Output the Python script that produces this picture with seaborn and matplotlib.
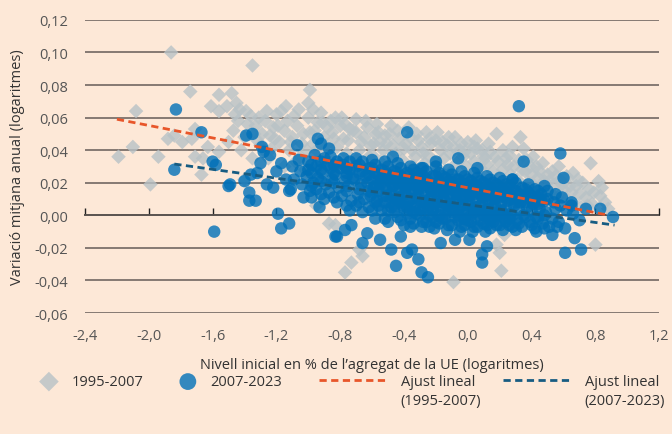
import numpy as np
import pandas as pd
import matplotlib
matplotlib.use('Agg')
import matplotlib.pyplot as plt
from matplotlib.ticker import FuncFormatter
import seaborn as sns

# 1995-2007 (grey diamonds): (initial level, mean annual change)
grey_left = [(-2.19, 0.036), (-2.10, 0.042), (-2.08, 0.064), (-1.99, 0.019), (-1.94, 0.036),
             (-1.86, 0.100), (-1.88, 0.047), (-1.84, 0.049), (-1.79, 0.045), (-1.74, 0.076),
             (-1.73, 0.047), (-1.71, 0.053), (-1.71, 0.036), (-1.67, 0.025), (-1.66, 0.035),
             (-1.63, 0.042), (-1.61, 0.067), (-1.56, 0.074), (-1.56, 0.064), (-1.56, 0.039),
             (-1.51, 0.067), (-1.48, 0.075), (-1.45, 0.069), (-1.43, 0.065), (-1.40, 0.022),
             (-1.36, 0.061), (-1.35, 0.092), (-1.30, 0.043), (-1.24, 0.049), (-1.50, 0.045),
             (-1.47, 0.052), (-1.44, 0.058), (-1.42, 0.040), (-1.40, 0.048), (-1.38, 0.056),
             (-1.33, 0.055), (-1.31, 0.060), (-1.29, 0.050), (-1.27, 0.058), (-1.25, 0.035),
             (-1.22, 0.054), (-1.20, 0.062), (-1.18, 0.045), (-1.17, 0.064), (-1.15, 0.052),
             (-1.13, 0.058), (-1.12, 0.040), (-1.10, 0.048), (-1.09, 0.061), (-1.07, 0.055),
             (-1.05, 0.036), (-1.03, 0.050), (-1.00, 0.069), (-1.00, 0.060), (-0.99, 0.077),
             (-0.99, 0.051), (-0.97, 0.044), (-0.95, 0.006), (-0.94, 0.057), (-1.46, 0.062),
             (-1.39, 0.064), (-1.34, 0.050), (-1.26, 0.064), (-1.21, 0.047), (-1.14, 0.067),
             (-1.06, 0.065), (-1.04, 0.044), (-0.97, 0.065), (-0.91, 0.057), (-1.15, 0.030),
             (-1.08, 0.033), (-1.02, 0.028), (-1.28, 0.040), (-1.35, 0.035), (-1.32, 0.046),
             (-1.23, 0.041), (-1.19, 0.055), (-1.11, 0.045), (-1.01, 0.040), (-0.96, 0.052)]
grey_mid = [(-0.92, 0.063), (-0.90, 0.048), (-0.88, 0.054), (-0.87, -0.005), (-0.86, 0.058),
            (-0.85, 0.051), (-0.83, 0.060), (-0.83, -0.006), (-0.82, 0.042), (-0.80, 0.055),
            (-0.78, 0.047), (-0.77, 0.056), (-0.77, -0.035), (-0.75, 0.046), (-0.73, -0.029),
            (-0.72, 0.052), (-0.70, 0.059), (-0.70, 0.051), (-0.68, 0.040), (-0.68, -0.021),
            (-0.66, -0.025), (-0.65, 0.048), (-0.63, 0.054), (-0.61, 0.043), (-0.60, 0.037),
            (-0.58, 0.050), (-0.57, 0.056), (-0.55, 0.045), (-0.53, 0.040), (-0.52, 0.049),
            (-0.49, 0.050), (-0.47, 0.043), (-0.45, 0.038), (-0.43, 0.047), (-0.41, 0.034),
            (-0.39, 0.044), (-0.37, 0.054), (-0.35, 0.040), (-0.33, 0.036), (-0.31, 0.046),
            (-0.29, 0.042), (-0.26, 0.051), (-0.25, 0.037), (-0.23, 0.044), (-0.21, 0.033),
            (-0.19, 0.051), (-0.17, 0.040), (-0.15, 0.035), (-0.13, 0.043), (-0.11, 0.038),
            (-0.09, -0.041), (-0.08, 0.048), (-0.07, 0.032), (-0.05, 0.040), (-0.03, 0.036),
            (0.00, 0.045), (-0.01, 0.030), (-0.95, 0.040), (-0.93, 0.030), (-0.90, 0.036),
            (-0.85, 0.025), (-0.80, 0.032), (-0.76, 0.038), (-0.74, 0.028), (-0.70, 0.034),
            (-0.66, 0.030), (-0.62, 0.036), (-0.58, 0.028), (-0.55, 0.033), (-0.50, 0.030),
            (-0.46, 0.026), (-0.42, 0.030), (-0.38, 0.024), (-0.34, 0.030), (-0.30, 0.022),
            (-0.27, 0.032), (-0.22, 0.025), (-0.18, 0.028), (-0.14, 0.022), (-0.10, 0.027),
            (-0.06, 0.020), (-0.02, 0.024), (-0.44, 0.052), (-0.36, 0.048), (-0.28, 0.038),
            (-0.20, 0.046), (-0.12, 0.048), (-0.04, 0.044), (-0.89, 0.043), (-0.84, 0.047),
            (-0.79, 0.060), (-0.74, 0.053), (-0.67, 0.045), (-0.64, 0.058), (-0.59, 0.044),
            (-0.56, 0.051), (-0.51, 0.044), (-0.48, 0.055), (-0.40, 0.041), (-0.32, 0.050),
            (-0.24, 0.047), (-0.16, 0.045), (-0.09, 0.042), (-0.02, 0.039)]
grey_right = [(0.02, 0.038), (0.04, 0.033), (0.06, 0.041), (0.08, 0.029), (0.10, 0.036),
              (0.12, 0.031), (0.14, 0.039), (0.16, 0.027), (0.18, 0.050), (0.18, -0.018),
              (0.19, 0.033), (0.20, -0.023), (0.21, -0.034), (0.22, 0.028), (0.23, -0.012),
              (0.24, 0.035), (0.26, 0.037), (0.27, 0.025), (0.29, 0.030), (0.31, 0.022),
              (0.33, 0.048), (0.34, 0.028), (0.35, 0.041), (0.36, 0.027), (0.38, 0.020),
              (0.40, 0.025), (0.42, 0.018), (0.44, 0.023), (0.46, 0.016), (0.48, 0.021),
              (0.50, 0.025), (0.52, 0.014), (0.54, 0.019), (0.56, 0.011), (0.58, 0.022),
              (0.60, 0.016), (0.62, 0.010), (0.64, 0.018), (0.66, 0.008), (0.68, 0.018),
              (0.70, 0.013), (0.71, 0.005), (0.74, 0.011), (0.77, 0.032), (0.78, 0.007),
              (0.80, -0.018), (0.82, 0.021), (0.83, 0.012), (0.86, 0.008), (0.88, 0.004),
              (0.03, 0.020), (0.07, 0.022), (0.11, 0.017), (0.15, 0.020), (0.20, 0.016),
              (0.25, 0.018), (0.30, 0.012), (0.35, 0.014), (0.40, 0.010), (0.45, 0.008),
              (0.05, 0.046), (0.09, 0.040), (0.13, 0.044), (0.22, 0.040), (0.28, 0.042),
              (0.37, 0.034), (0.43, 0.030), (0.47, 0.032), (0.53, 0.027), (0.57, 0.030),
              (0.62, 0.024), (0.66, 0.026), (0.72, 0.020), (0.76, 0.016), (0.04, 0.042),
              (0.11, 0.035), (0.17, 0.036), (0.25, 0.031), (0.32, 0.034), (0.39, 0.030),
              (0.45, 0.027), (0.51, 0.021), (0.59, 0.019), (0.65, 0.014), (0.69, 0.022),
              (0.75, 0.006), (0.79, 0.014), (0.84, 0.017), (0.55, 0.024), (0.41, 0.036)]

# 2007-2023 (blue circles)
blue_outer = [(-1.83, 0.065), (-1.84, 0.028), (-1.67, 0.051), (-1.60, 0.033), (-1.58, 0.031),
              (-1.59, -0.010), (-1.50, 0.018), (-1.49, 0.019), (-1.40, 0.021), (-1.39, 0.049),
              (-1.35, 0.050), (-1.37, 0.014), (-1.37, 0.009), (-1.33, 0.009), (-1.29, 0.042),
              (-1.28, 0.039), (-1.24, 0.037), (-1.30, 0.032), (-1.32, 0.026), (-1.36, 0.025),
              (-1.26, 0.019), (-1.22, 0.017), (-1.17, 0.032), (-1.20, 0.027), (-1.14, 0.022),
              (-1.07, 0.043), (-1.12, 0.015), (-1.03, 0.011), (-1.19, 0.001), (-1.17, -0.008),
              (-1.12, -0.005), (-0.94, 0.047), (-0.92, 0.044), (-0.87, 0.041), (-0.93, 0.005),
              (-0.83, -0.013), (-0.82, -0.013), (-0.77, -0.009), (-0.73, -0.006), (-0.66, -0.017),
              (-0.63, -0.011), (-0.55, -0.015), (-0.48, -0.021), (-0.45, -0.031), (-0.42, -0.013),
              (-0.38, -0.023), (-0.35, -0.021), (-0.36, -0.007), (-0.31, -0.027), (-0.29, -0.035),
              (-0.25, -0.038), (-0.17, -0.017), (-0.08, -0.015), (0.01, -0.015), (0.09, -0.024),
              (0.09, -0.029), (0.12, -0.019), (0.32, 0.067), (-0.38, 0.051), (-0.47, 0.036),
              (-0.29, 0.029), (-0.06, 0.035), (0.06, 0.029), (0.35, 0.033), (0.28, 0.022),
              (-0.20, 0.033), (0.58, 0.038), (0.60, 0.023), (0.48, 0.018), (0.55, 0.013),
              (0.65, 0.006), (0.74, 0.004), (0.83, 0.004), (0.91, -0.001), (0.61, -0.023),
              (0.71, -0.021), (0.53, -0.012), (0.43, -0.010), (0.67, -0.014), (0.56, -0.007)]
blue_core_left = [(-1.10, 0.030), (-1.09, 0.022), (-1.11, 0.016), (-1.05, 0.027), (-1.04, 0.019),
                  (-1.06, 0.034), (-1.00, 0.033), (-1.01, 0.024), (-0.99, 0.015), (-1.00, 0.028),
                  (-0.97, 0.020), (-0.96, 0.037), (-0.98, 0.011), (-0.95, 0.030), (-0.94, 0.023),
                  (-0.95, 0.016), (-0.90, 0.035), (-0.91, 0.026), (-0.89, 0.019), (-0.90, 0.010),
                  (-0.88, 0.031), (-0.86, 0.029), (-0.85, 0.022), (-0.87, 0.014), (-0.86, 0.036),
                  (-0.82, 0.033), (-0.83, 0.025), (-0.81, 0.017), (-0.82, 0.008), (-0.80, 0.029),
                  (-0.78, 0.031), (-0.77, 0.021), (-0.79, 0.012), (-0.78, 0.035), (-0.76, 0.026),
                  (-0.74, 0.028), (-0.75, 0.018), (-0.73, 0.009), (-0.74, 0.033), (-0.72, 0.023),
                  (-0.74, 0.003), (-0.70, 0.030), (-0.71, 0.022), (-0.69, 0.013), (-0.70, 0.035),
                  (-0.70, 0.006), (-0.66, 0.027), (-0.67, 0.019), (-0.65, 0.010), (-0.66, 0.033),
                  (-0.64, 0.024), (-0.66, 0.002), (-0.62, 0.029), (-0.63, 0.020), (-0.61, 0.012),
                  (-0.62, 0.005), (-0.60, 0.034), (-0.62, 0.025), (-0.58, 0.026), (-0.59, 0.017),
                  (-0.57, 0.009), (-0.58, 0.031), (-0.56, 0.021), (-0.58, -0.002), (-0.54, 0.028),
                  (-0.55, 0.019), (-0.53, 0.012), (-0.54, 0.003), (-0.52, 0.033), (-0.54, 0.023),
                  (-0.50, 0.025), (-0.51, 0.016), (-0.49, 0.008), (-0.50, 0.030), (-0.48, 0.020),
                  (-0.50, -0.004), (-0.51, 0.012), (-0.46, 0.027), (-0.47, 0.018), (-0.45, 0.010),
                  (-0.46, 0.002), (-0.44, 0.032), (-0.46, 0.022), (-0.47, 0.014)]
blue_core_mid = [(-0.42, 0.024), (-0.43, 0.015), (-0.41, 0.006), (-0.42, 0.029), (-0.40, 0.019),
                 (-0.42, -0.003), (-0.43, 0.011), (-0.38, 0.026), (-0.39, 0.017), (-0.37, 0.009),
                 (-0.38, 0.001), (-0.36, 0.030), (-0.38, 0.021), (-0.39, 0.013), (-0.34, 0.023),
                 (-0.35, 0.014), (-0.33, 0.005), (-0.34, 0.028), (-0.32, 0.018), (-0.34, -0.005),
                 (-0.35, 0.010), (-0.30, 0.025), (-0.31, 0.016), (-0.29, 0.008), (-0.30, 0.000),
                 (-0.28, 0.029), (-0.30, 0.020), (-0.31, 0.012), (-0.29, -0.007), (-0.26, 0.022),
                 (-0.27, 0.013), (-0.25, 0.004), (-0.26, 0.027), (-0.24, 0.017), (-0.26, -0.004),
                 (-0.27, 0.009), (-0.22, 0.024), (-0.23, 0.015), (-0.21, 0.007), (-0.22, -0.001),
                 (-0.20, 0.030), (-0.22, 0.019), (-0.23, 0.011), (-0.21, -0.008), (-0.18, 0.021),
                 (-0.19, 0.012), (-0.17, 0.003), (-0.18, 0.026), (-0.16, 0.016), (-0.18, -0.005),
                 (-0.19, 0.008), (-0.14, 0.023), (-0.15, 0.014), (-0.13, 0.006), (-0.14, -0.002),
                 (-0.12, 0.028), (-0.14, 0.018), (-0.15, 0.010), (-0.13, -0.009), (-0.10, 0.020),
                 (-0.11, 0.011), (-0.09, 0.002), (-0.10, 0.025), (-0.08, 0.015), (-0.10, -0.006),
                 (-0.11, 0.007), (-0.06, 0.022), (-0.07, 0.013), (-0.05, 0.005), (-0.06, -0.003),
                 (-0.04, 0.027), (-0.06, 0.017), (-0.07, 0.009), (-0.05, -0.010), (-0.02, 0.019),
                 (-0.03, 0.010), (-0.01, 0.001), (-0.02, 0.024), (0.00, 0.014), (-0.02, -0.006),
                 (-0.03, 0.006)]
blue_core_right = [(0.02, 0.021), (0.01, 0.012), (0.03, 0.004), (0.02, -0.004), (0.04, 0.026),
                   (0.02, 0.016), (0.01, 0.008), (0.03, -0.010), (0.06, 0.018), (0.05, 0.009),
                   (0.07, 0.000), (0.06, 0.023), (0.08, 0.013), (0.06, -0.007), (0.05, 0.005),
                   (0.10, 0.020), (0.09, 0.011), (0.11, 0.003), (0.10, -0.005), (0.12, 0.024),
                   (0.10, 0.015), (0.09, 0.007), (0.11, -0.010), (0.14, 0.017), (0.13, 0.008),
                   (0.15, -0.001), (0.14, 0.022), (0.16, 0.012), (0.14, -0.008), (0.13, 0.004),
                   (0.18, 0.019), (0.17, 0.010), (0.19, 0.002), (0.18, -0.006), (0.20, 0.023),
                   (0.18, 0.014), (0.17, 0.006), (0.22, 0.016), (0.21, 0.007), (0.23, -0.002),
                   (0.22, 0.021), (0.24, 0.011), (0.22, -0.009), (0.21, 0.003), (0.26, 0.018),
                   (0.25, 0.009), (0.27, 0.001), (0.26, -0.006), (0.28, 0.022), (0.26, 0.013),
                   (0.30, 0.015), (0.29, 0.006), (0.31, -0.003), (0.30, 0.020), (0.32, 0.010),
                   (0.30, -0.009), (0.34, 0.017), (0.33, 0.008), (0.35, 0.000), (0.34, -0.007),
                   (0.36, 0.012), (0.38, 0.014), (0.37, 0.005), (0.39, -0.004), (0.38, 0.019),
                   (0.40, 0.009), (0.42, 0.016), (0.41, 0.007), (0.43, -0.001), (0.42, -0.008),
                   (0.44, 0.011), (0.46, 0.013), (0.45, 0.004), (0.47, -0.005), (0.46, 0.009),
                   (0.50, 0.010), (0.49, 0.002), (0.51, -0.007), (0.50, 0.015), (0.54, 0.008),
                   (0.53, -0.002), (0.55, 0.004), (0.58, 0.006), (0.57, -0.004), (0.59, 0.011),
                   (0.62, 0.003), (0.61, -0.008), (0.66, 0.001), (0.65, 0.008), (0.70, -0.003)]
blue_core_fill = [(-0.98, 0.026), (-0.98, 0.018), (-0.98, 0.031), (-0.92, 0.028), (-0.92, 0.021),
                  (-0.92, 0.013), (-0.92, 0.033), (-0.84, 0.031), (-0.84, 0.020), (-0.84, 0.011),
                  (-0.84, 0.026), (-0.76, 0.029), (-0.76, 0.015), (-0.76, 0.006), (-0.76, 0.024),
                  (-0.68, 0.026), (-0.68, 0.016), (-0.68, 0.008), (-0.68, 0.031), (-0.60, 0.022),
                  (-0.60, 0.014), (-0.60, 0.003), (-0.60, 0.029), (-0.56, 0.025), (-0.56, 0.006),
                  (-0.56, 0.015), (-0.52, 0.019), (-0.52, 0.008), (-0.52, -0.002), (-0.52, 0.027),
                  (-0.48, 0.024), (-0.48, 0.005), (-0.48, 0.013), (-0.44, 0.020), (-0.44, 0.009),
                  (-0.44, -0.001), (-0.44, 0.026), (-0.40, 0.022), (-0.40, 0.004), (-0.40, 0.013),
                  (-0.40, -0.006), (-0.36, 0.019), (-0.36, 0.006), (-0.36, 0.025), (-0.36, -0.002),
                  (-0.32, 0.021), (-0.32, 0.011), (-0.32, 0.001), (-0.32, 0.026), (-0.28, 0.017),
                  (-0.28, 0.004), (-0.28, 0.024), (-0.28, -0.004), (-0.24, 0.020), (-0.24, 0.010),
                  (-0.24, 0.000), (-0.24, -0.007), (-0.20, 0.015), (-0.20, 0.005), (-0.20, 0.024),
                  (-0.20, -0.004), (-0.16, 0.019), (-0.16, 0.008), (-0.16, -0.002), (-0.16, 0.024),
                  (-0.12, 0.014), (-0.12, 0.003), (-0.12, 0.021), (-0.12, -0.006), (-0.08, 0.018),
                  (-0.08, 0.008), (-0.08, -0.001), (-0.08, 0.022), (-0.04, 0.012), (-0.04, 0.002),
                  (-0.04, 0.020), (-0.04, -0.007), (0.00, 0.017), (0.00, 0.007), (0.00, -0.003),
                  (0.00, 0.022), (0.04, 0.013), (0.04, 0.002), (0.04, 0.019), (0.04, -0.007),
                  (0.08, 0.016), (0.08, 0.006), (0.08, -0.003), (0.08, 0.021), (0.12, 0.012),
                  (0.12, 0.001), (0.12, 0.018), (0.12, -0.006), (0.16, 0.015), (0.16, 0.005),
                  (0.16, -0.004), (0.16, 0.020), (0.20, 0.011), (0.20, 0.001), (0.20, 0.017),
                  (0.20, -0.006), (0.24, 0.014), (0.24, 0.004), (0.24, -0.004), (0.24, 0.019),
                  (0.28, 0.010), (0.28, 0.000), (0.28, 0.016), (0.28, -0.007), (0.32, 0.013),
                  (0.32, 0.004), (0.32, -0.005), (0.36, 0.008), (0.36, -0.001), (0.36, 0.016),
                  (0.40, 0.012), (0.40, 0.003), (0.40, -0.006), (0.44, 0.007), (0.44, -0.002),
                  (0.44, 0.015), (0.48, 0.009), (0.48, 0.000), (0.48, -0.008)]
blue_core_fill2 = [(-0.58, 0.018), (-0.58, 0.008), (-0.50, 0.022), (-0.50, 0.003), (-0.42, 0.019),
                   (-0.42, 0.008), (-0.34, 0.016), (-0.34, 0.002), (-0.26, 0.019), (-0.26, 0.007),
                   (-0.18, 0.015), (-0.18, 0.000), (-0.10, 0.016), (-0.10, 0.004), (-0.02, 0.013),
                   (-0.02, -0.002), (0.06, 0.014), (0.06, 0.003), (0.14, 0.011), (0.14, -0.003),
                   (0.22, 0.012), (0.22, 0.001), (0.30, 0.008), (-0.62, 0.015), (-0.46, 0.006),
                   (-0.30, 0.004), (-0.14, 0.001), (0.02, 0.000), (0.18, 0.000), (-0.38, 0.005),
                   (-0.22, 0.003), (-0.06, 0.000), (0.10, 0.000), (0.26, -0.002)]

# linear fits (end points)
fit_x_9507 = [-2.20, 0.87]
fit_y_9507 = [0.059, 0.0003]
fit_x_0723 = [-1.84, 0.92]
fit_y_0723 = [0.0315, -0.006]

x_ticks = [-2.4, -2.0, -1.6, -1.2, -0.8, -0.4, 0.0, 0.4, 0.8, 1.2]
y_ticks = [-0.06, -0.04, -0.02, 0.00, 0.02, 0.04, 0.06, 0.08, 0.10, 0.12]

bg = '#fde8d7'
sns.set_style('white', {'axes.facecolor': bg})
plt.rcParams['font.family'] = ['Open Sans', 'DejaVu Sans']

grey = pd.DataFrame(grey_left + grey_mid + grey_right, columns=['x', 'y'])
blue = pd.DataFrame(blue_outer + blue_core_left + blue_core_mid + blue_core_right
                    + blue_core_fill + blue_core_fill2, columns=['x', 'y'])

fig, ax = plt.subplots(figsize=(6.72, 4.35), dpi=100)
fig.patch.set_facecolor(bg)
ax.set_facecolor(bg)
fig.subplots_adjust(left=0.1265, right=0.981, top=0.952, bottom=0.278)

sns.scatterplot(data=grey, x='x', y='y', marker='D', s=55, color='#b8c2c6', alpha=0.8,
                edgecolor='none', ax=ax, label='1995-2007', zorder=2)
sns.scatterplot(data=blue, x='x', y='y', marker='o', s=80, color='#0070b8', alpha=0.8,
                edgecolor='none', ax=ax, label='2007-2023', zorder=3)
ax.plot(fit_x_9507, fit_y_9507, color='#e8562a', lw=2, ls=(0, (2.6, 1.6)), zorder=4,
        label='Ajust lineal\n(1995-2007)')
ax.plot(fit_x_0723, fit_y_0723, color='#175c82', lw=2, ls=(0, (2.6, 1.6)), zorder=4,
        label='Ajust lineal\n(2007-2023)')

ax.set_xlim(-2.4, 1.2)
ax.set_ylim(-0.06, 0.12)
ax.set_xticks(x_ticks)
ax.set_yticks(y_ticks)
ax.xaxis.set_major_formatter(FuncFormatter(lambda v, _: f'{v:.1f}'.replace('.', ',')))
ax.yaxis.set_major_formatter(FuncFormatter(lambda v, _: f'{v:.2f}'.replace('.', ',')))
ax.grid(False)
ax.yaxis.grid(True, color='#655c58', lw=1.1, zorder=1)
ax.set_axisbelow(True)
for s in ax.spines.values():
    s.set_visible(False)
ax.tick_params(axis='both', length=0, labelsize=10.5, labelcolor='#555555')
ax.tick_params(axis='y', pad=12)
ax.tick_params(axis='x', pad=11)

# zero line with the x ticks on it
zero = ax.secondary_xaxis(1 / 3)
zero.set_xticks(x_ticks)
zero.tick_params(direction='in', length=5, width=1, color='#222222', labelbottom=False)
zero.spines['bottom'].set_color('#222222')
zero.spines['bottom'].set_linewidth(1.2)

ax.set_xlabel('Nivell inicial en % de l\u2019agregat de la UE (logaritmes)', fontsize=10.5,
              color='#333333', labelpad=10)
ax.set_ylabel('Variació mitjana anual (logaritmes)', fontsize=10.5, color='#333333', labelpad=7)

handles, labels = ax.get_legend_handles_labels()
ax.get_legend().remove()
leg1 = fig.legend(handles[:2], labels[:2], loc='upper left', bbox_to_anchor=(0.0565, 0.137),
                  ncol=2, frameon=False, fontsize=10.5, labelcolor='#333333', handlelength=1.5,
                  handletextpad=0.8, columnspacing=2.3, markerscale=1.35, borderpad=0,
                  borderaxespad=0)
leg2 = fig.legend(handles[2:], labels[2:], loc='upper left', bbox_to_anchor=(0.4747, 0.137),
                  ncol=2, frameon=False, fontsize=10.5, labelcolor='#333333', handlelength=4.7,
                  handletextpad=0.9, columnspacing=1.5, borderpad=0, borderaxespad=0)
for t in leg2.get_texts():
    t.set_linespacing(1.35)
# put the dashed handles level with the first text line
try:
    for col in leg2._legend_handle_box.get_children():
        for row in col.get_children():
            row.align = 'top'
except AttributeError:
    pass

fig.savefig('out.png', dpi=100, facecolor=bg)
